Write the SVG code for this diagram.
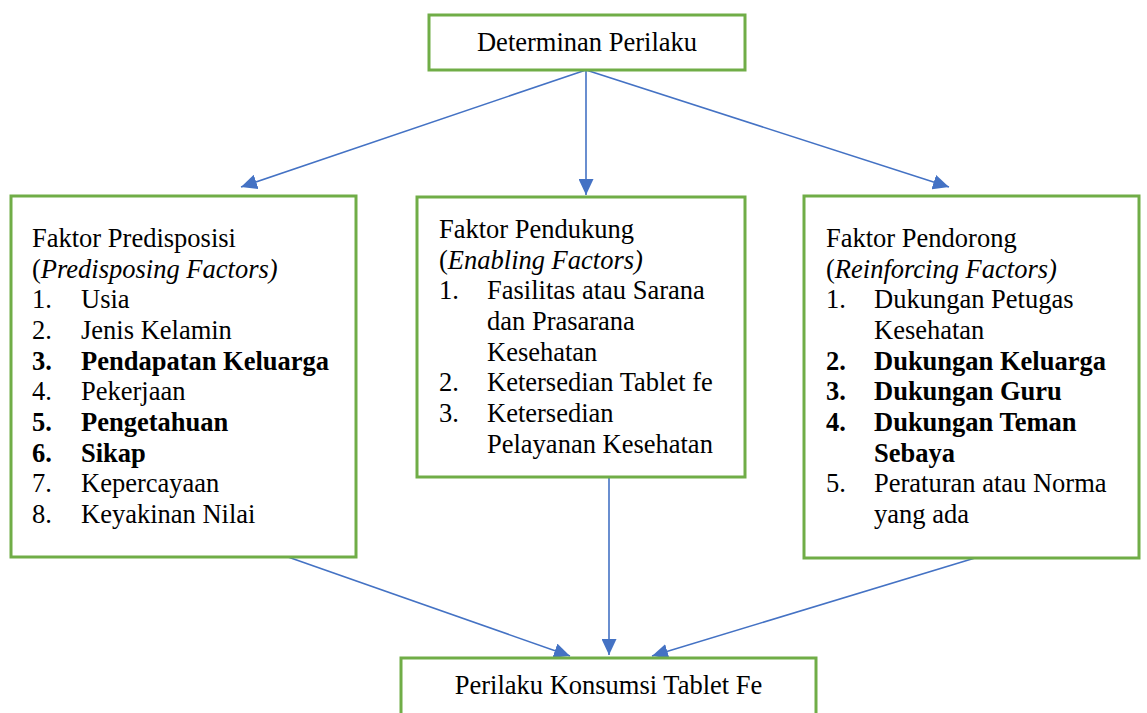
<svg xmlns="http://www.w3.org/2000/svg" width="1147" height="713" viewBox="0 0 1147 713">
<style>
.box{fill:#fff;stroke:#70AD47;stroke-width:3}
text{font-family:'Liberation Serif',serif;font-size:26.5px;fill:#000}
.b{font-weight:bold}
.i{font-style:italic}
.c{text-anchor:middle}
.con{stroke:#4472C4;stroke-width:1.6;fill:none;marker-end:url(#ah)}
</style>
<defs>
<marker id="ah" markerUnits="userSpaceOnUse" markerWidth="17" markerHeight="15" refX="16" refY="7.5" orient="auto">
<path d="M0,0 L16,7.5 L0,15 z" fill="#4472C4"/>
</marker>
</defs>
<rect width="1147" height="713" fill="#fff"/>
<g id="connectors">
<line class="con" x1="586" y1="70" x2="241" y2="187"/>
<line class="con" x1="586" y1="70" x2="586" y2="195"/>
<line class="con" x1="586" y1="70" x2="949" y2="187"/>
<line class="con" x1="288" y1="557" x2="570" y2="656"/>
<line class="con" x1="609" y1="477" x2="609" y2="655"/>
<line class="con" x1="975" y1="558" x2="652" y2="656"/>
</g>
<g font-family="Liberation Serif, serif">
<g id="node-determinan">
<rect class="box" x="429" y="15" width="316" height="55"/>
<text class="c" x="587" y="51">Determinan Perilaku</text>
</g>
<g id="node-predisposisi">
<rect class="box" x="11" y="196" width="345" height="361"/>
<text x="32" y="247">Faktor Predisposisi</text>
<text x="32" y="278">(<tspan class="i">Predisposing Factors)</tspan></text>
<text x="32" y="308">1.</text><text x="81" y="308">Usia</text>
<text x="32" y="339">2.</text><text x="81" y="339">Jenis Kelamin</text>
<text class="b" x="32" y="370">3.</text><text class="b" x="81" y="370">Pendapatan Keluarga</text>
<text x="32" y="400">4.</text><text x="81" y="400">Pekerjaan</text>
<text class="b" x="32" y="431">5.</text><text class="b" x="81" y="431">Pengetahuan</text>
<text class="b" x="32" y="462">6.</text><text class="b" x="81" y="462">Sikap</text>
<text x="32" y="492">7.</text><text x="81" y="492">Kepercayaan</text>
<text x="32" y="523">8.</text><text x="81" y="523">Keyakinan Nilai</text>
</g>
<g id="node-pendukung">
<rect class="box" x="417" y="197" width="328" height="280"/>
<text x="439" y="238">Faktor Pendukung</text>
<text x="439" y="269">(<tspan class="i">Enabling Factors)</tspan></text>
<text x="439" y="299">1.</text><text x="487" y="299">Fasilitas atau Sarana</text>
<text x="487" y="330">dan Prasarana</text>
<text x="487" y="361">Kesehatan</text>
<text x="439" y="391">2.</text><text x="487" y="391">Ketersedian Tablet fe</text>
<text x="439" y="422">3.</text><text x="487" y="422">Ketersedian</text>
<text x="487" y="453">Pelayanan Kesehatan</text>
</g>
<g id="node-pendorong">
<rect class="box" x="804" y="196" width="335" height="362"/>
<text x="826" y="247">Faktor Pendorong</text>
<text x="826" y="278">(<tspan class="i">Reinforcing Factors)</tspan></text>
<text x="826" y="308">1.</text><text x="874" y="308">Dukungan Petugas</text>
<text x="874" y="339">Kesehatan</text>
<text class="b" x="826" y="370">2.</text><text class="b" x="874" y="370">Dukungan Keluarga</text>
<text class="b" x="826" y="400">3.</text><text class="b" x="874" y="400">Dukungan Guru</text>
<text class="b" x="826" y="431">4.</text><text class="b" x="874" y="431">Dukungan Teman</text>
<text class="b" x="874" y="462">Sebaya</text>
<text x="826" y="492">5.</text><text x="874" y="492">Peraturan atau Norma</text>
<text x="874" y="523">yang ada</text>
</g>
<g id="node-perilaku">
<rect class="box" x="401" y="658" width="415" height="70"/>
<text class="c" x="608.5" y="694">Perilaku Konsumsi Tablet Fe</text>
</g>
</g>
</svg>
